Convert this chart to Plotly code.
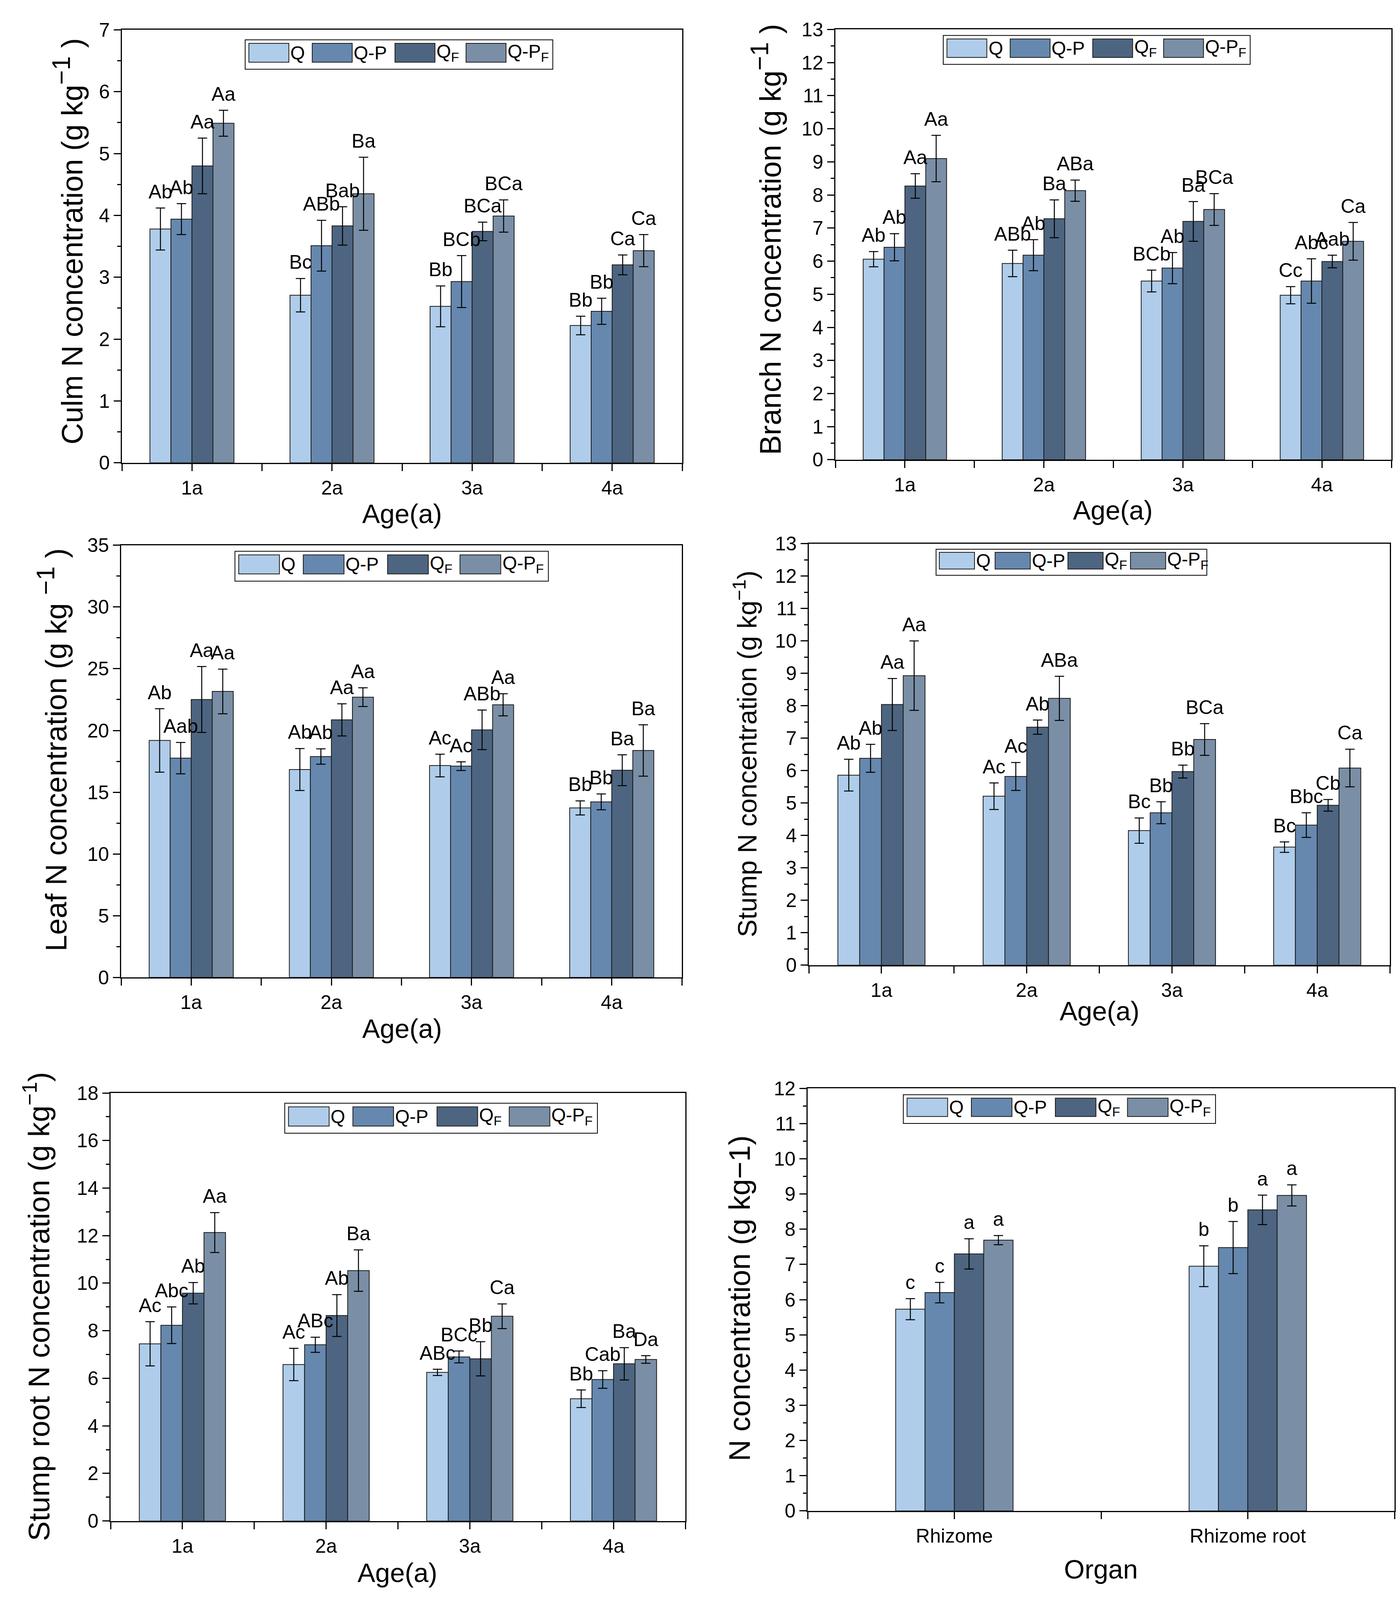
import numpy as np
import plotly.graph_objects as go

W, H = 3583, 4101

series = ["Q", "Q-P", "Q<sub>F</sub>", "Q-P<sub>F</sub>"]
colors = ["#AFCDEA", "#6688AE", "#4D6580", "#7A8FA6"]

ages = ["1a", "2a", "3a", "4a"]
organs = ["Rhizome", "Rhizome root"]

# rows: Q, Q-P, QF, Q-PF ; columns: categories
culm_mean = [[3.78, 2.71, 2.53, 2.22],
             [3.94, 3.51, 2.93, 2.45],
             [4.80, 3.83, 3.74, 3.20],
             [5.49, 4.35, 3.99, 3.43]]
culm_err = [[0.34, 0.27, 0.33, 0.15],
            [0.25, 0.41, 0.42, 0.21],
            [0.45, 0.31, 0.15, 0.16],
            [0.21, 0.59, 0.26, 0.26]]
culm_lab = [["Ab", "Bc", "Bb", "Bb"],
            ["Ab", "ABb", "BCb", "Bb"],
            ["Aa", "Bab", "BCa", "Ca"],
            ["Aa", "Ba", "BCa", "Ca"]]

branch_mean = [[6.06, 5.93, 5.40, 4.97],
               [6.42, 6.18, 5.79, 5.40],
               [8.27, 7.28, 7.20, 5.99],
               [9.10, 8.13, 7.56, 6.60]]
branch_err = [[0.23, 0.40, 0.33, 0.26],
              [0.41, 0.47, 0.47, 0.67],
              [0.37, 0.57, 0.60, 0.19],
              [0.70, 0.32, 0.48, 0.57]]
branch_lab = [["Ab", "ABb", "BCb", "Cc"],
              ["Ab", "Ab", "Ab", "Abc"],
              ["Aa", "Ba", "Ba", "Aab"],
              ["Aa", "ABa", "BCa", "Ca"]]

leaf_mean = [[19.19, 16.84, 17.16, 13.73],
             [17.76, 17.89, 17.11, 14.22],
             [22.51, 20.86, 20.05, 16.78],
             [23.16, 22.70, 22.08, 18.38]]
leaf_err = [[2.57, 1.70, 0.92, 0.57],
            [1.27, 0.62, 0.35, 0.64],
            [2.67, 1.30, 1.60, 1.25],
            [1.81, 0.76, 0.89, 2.08]]
leaf_lab = [["Ab", "Ab", "Ac", "Bb"],
            ["Aab", "Ab", "Ac", "Bb"],
            ["Aa", "Aa", "ABb", "Ba"],
            ["Aa", "Aa", "Aa", "Ba"]]

stump_mean = [[5.86, 5.21, 4.15, 3.64],
              [6.38, 5.82, 4.70, 4.32],
              [8.04, 7.34, 5.97, 4.93],
              [8.93, 8.23, 6.96, 6.08]]
stump_err = [[0.49, 0.41, 0.39, 0.16],
             [0.43, 0.43, 0.34, 0.38],
             [0.80, 0.22, 0.20, 0.18],
             [1.07, 0.68, 0.49, 0.58]]
stump_lab = [["Ab", "Ac", "Bc", "Bc"],
             ["Ab", "Ac", "Bb", "Bbc"],
             ["Aa", "Ab", "Bb", "Cb"],
             ["Aa", "ABa", "BCa", "Ca"]]

sroot_mean = [[7.45, 6.58, 6.25, 5.14],
              [8.23, 7.41, 6.90, 5.95],
              [9.58, 8.64, 6.82, 6.61],
              [12.13, 10.53, 8.61, 6.79]]
sroot_err = [[0.93, 0.68, 0.13, 0.37],
             [0.77, 0.32, 0.25, 0.37],
             [0.45, 0.88, 0.72, 0.68],
             [0.84, 0.87, 0.52, 0.16]]
sroot_lab = [["Ac", "Ac", "ABc", "Bb"],
             ["Abc", "ABc", "BCc", "Cab"],
             ["Ab", "Ab", "Bb", "Ba"],
             ["Aa", "Ba", "Ca", "Da"]]

rhiz_mean = [[5.73, 6.95],
             [6.20, 7.48],
             [7.30, 8.55],
             [7.69, 8.96]]
rhiz_err = [[0.30, 0.58],
            [0.29, 0.74],
            [0.43, 0.42],
            [0.13, 0.30]]
rhiz_lab = [["c", "b"],
            ["c", "b"],
            ["a", "a"],
            ["a", "a"]]

FONT = "Liberation Sans, Arial, sans-serif"


def px_x(v):
    return v / W


def px_y(v):
    return 1 - v / H


fig = go.Figure()


def add_panel(k, cats, means, errs, labs, ymax, dtick, ytitle, xtitle,
              box_px, ytitle_px, xtitle_px, legend_box, bar_w=0.15,
              fs=50, tfs=68, yfs=76):
    xa = "x" if k == 1 else f"x{k}"
    ya = "y" if k == 1 else f"y{k}"
    xkey = "xaxis" if k == 1 else f"xaxis{k}"
    ykey = "yaxis" if k == 1 else f"yaxis{k}"
    n = len(cats)
    idx = np.arange(n)
    offs = (np.arange(4) - 1.5) * bar_w

    for i in range(4):
        xs = idx + offs[i]
        fig.add_trace(go.Bar(
            x=xs, y=means[i], width=bar_w, xaxis=xa, yaxis=ya,
            marker=dict(color=colors[i], line=dict(color="#1a1a1a", width=2)),
            error_y=dict(type="data", array=errs[i], color="black",
                         thickness=2.5, width=12),
            showlegend=False, name=series[i]))
        tops = np.array(means[i]) + np.array(errs[i])
        # invisible markers push the letters a little above the error caps
        fig.add_trace(go.Scatter(
            x=xs, y=tops, mode="markers+text", text=labs[i], xaxis=xa, yaxis=ya,
            marker=dict(size=18, color="rgba(0,0,0,0)"),
            textposition="top center", cliponaxis=False,
            textfont=dict(size=fs, color="black", family=FONT),
            showlegend=False, hoverinfo="skip"))

    x0, y0, x1, y1 = box_px
    axis_common = dict(showline=True, linecolor="black", linewidth=3, mirror=True,
                       showgrid=False, zeroline=False, ticks="outside",
                       tickwidth=3, ticklen=18, tickcolor="black",
                       tickfont=dict(size=fs, color="black", family=FONT))
    fig.layout[xkey] = dict(
        domain=[px_x(x0), px_x(x1)], anchor=ya, range=[-0.5, n - 0.5],
        tickmode="array", tickvals=list(idx), ticktext=cats,
        minor=dict(tick0=-0.5, dtick=1, ticks="outside", ticklen=18,
                   tickwidth=3, tickcolor="black", showgrid=False),
        **axis_common)
    fig.layout[ykey] = dict(
        domain=[px_y(y1), px_y(y0)], anchor=xa, range=[0, ymax],
        tick0=0, dtick=dtick,
        minor=dict(dtick=dtick / 2, ticks="outside", ticklen=9,
                   tickwidth=3, tickcolor="black", showgrid=False),
        **axis_common)

    fig.add_annotation(text=ytitle, textangle=-90, showarrow=False,
                       xref="paper", yref="paper",
                       x=px_x(ytitle_px[0]), y=px_y(ytitle_px[1]),
                       xanchor="center", yanchor="middle",
                       font=dict(size=yfs, color="black", family=FONT))
    fig.add_annotation(text=xtitle, showarrow=False,
                       xref="paper", yref="paper",
                       x=px_x(xtitle_px[0]), y=px_y(xtitle_px[1]),
                       xanchor="center", yanchor="middle",
                       font=dict(size=tfs, color="black", family=FONT))

    # Origin-style legend with large swatches
    xd, yd = f"{xa} domain", f"{ya} domain"
    bx0, bx1, by0, by1 = legend_box
    bw, bh = bx1 - bx0, by1 - by0
    fig.add_shape(type="rect", xref=xd, yref=yd, x0=bx0, x1=bx1, y0=by0, y1=by1,
                  line=dict(color="black", width=2), fillcolor="white")
    starts = [0.012, 0.218, 0.487, 0.718]
    for i in range(4):
        sx0 = bx0 + starts[i] * bw
        sx1 = sx0 + 0.13 * bw
        sy1 = by1 - 0.12 * bh
        sy0 = by1 - 0.76 * bh
        fig.add_shape(type="rect", xref=xd, yref=yd, x0=sx0, x1=sx1, y0=sy0, y1=sy1,
                      line=dict(color="#1a1a1a", width=2), fillcolor=colors[i])
        fig.add_annotation(text=series[i], showarrow=False, xref=xd, yref=yd,
                           x=sx1, y=(sy0 + sy1) / 2, xanchor="left", yanchor="middle",
                           xshift=2, font=dict(size=48, color="black", family=FONT))


big_sup = "<sup><span style='font-size:64px'>−1</span></sup>"
add_panel(1, ages, culm_mean, culm_err, culm_lab, 7, 1,
          f"Culm N concentration (g kg{big_sup} )", "Age(a)",
          (304, 41, 1738, 1165), (166, 590), (1021, 1297),
          (0.220, 0.769, 0.909, 0.977))
add_panel(2, ages, branch_mean, branch_err, branch_lab, 13, 1,
          f"Branch N concentration (g kg{big_sup} )", "Age(a)",
          (2130, 40, 3553, 1157), (1953, 585), (2840, 1288),
          (0.194, 0.746, 0.919, 0.986))
add_panel(3, ages, leaf_mean, leaf_err, leaf_lab, 35, 5,
          f"Leaf N concentration (g kg {big_sup} )", "Age(a)",
          (302, 1379, 1737, 2501), (126, 1910), (1021, 2634),
          (0.203, 0.762, 0.917, 0.986))
add_panel(4, ages, stump_mean, stump_err, stump_lab, 13, 1,
          "Stump N concentration (g kg<sup>−1</sup>)", "Age(a)",
          (2062, 1375, 3549, 2469), (1900, 1921), (2806, 2588),
          (0.219, 0.685, 0.925, 0.987), yfs=68)
add_panel(5, ages, sroot_mean, sroot_err, sroot_lab, 18, 2,
          "Stump root N concentration (g kg<sup>−1</sup>)", "Age(a)",
          (275, 2801, 1746, 3912), (86, 3356), (1009, 4046),
          (0.303, 0.847, 0.906, 0.976))
add_panel(6, organs, rhiz_mean, rhiz_err, rhiz_lab, 12, 1,
          "N concentration (g kg−1)", "Organ",
          (2059, 2789, 3561, 3886), (1885, 3334), (2809, 4037),
          (0.163, 0.695, 0.917, 0.985), bar_w=0.1)

fig.update_layout(
    width=W, height=H,
    margin=dict(l=0, r=0, t=0, b=0),
    paper_bgcolor="white", plot_bgcolor="white",
    barmode="overlay", showlegend=False,
    font=dict(family=FONT, color="black"),
)

fig.write_html("out.html")
